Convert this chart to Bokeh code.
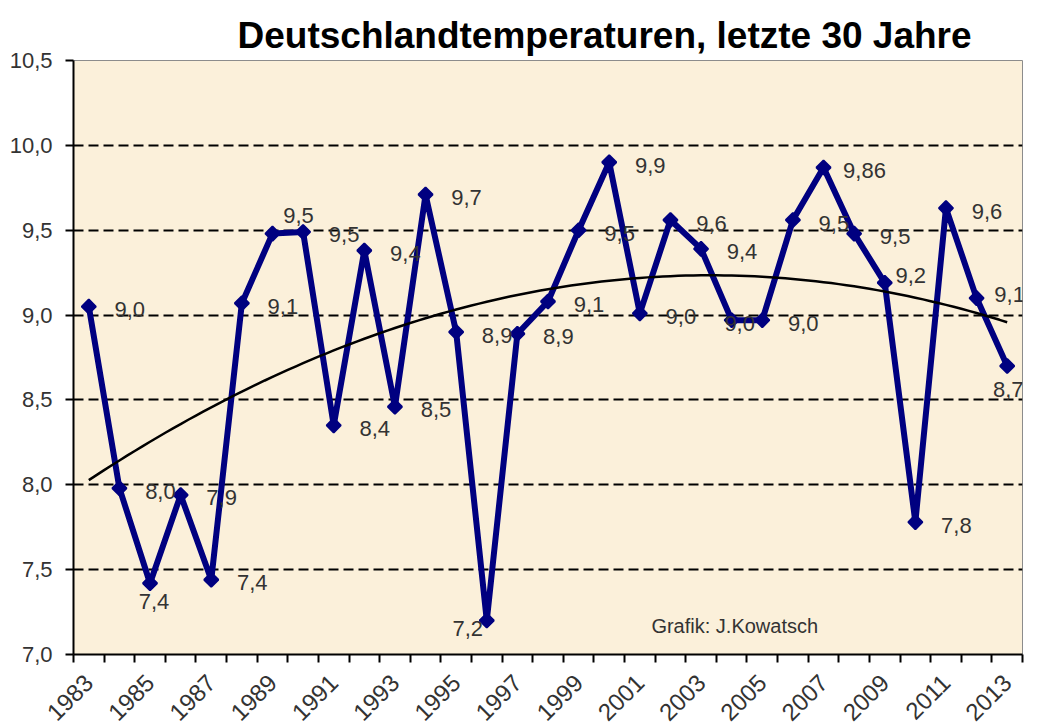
import math
import numpy as np
from bokeh.plotting import figure
from bokeh.models import Range1d, FixedTicker, Label, ColumnDataSource
from bokeh.core.properties import value
from bokeh.embed import file_html
from bokeh.resources import INLINE

# ---- data ----
years = list(range(1983, 2014))
temps = [9.05, 7.98, 7.42, 7.94, 7.44, 9.07, 9.48, 9.49, 8.35, 9.38,
         8.46, 9.71, 8.90, 7.20, 8.89, 9.08, 9.50, 9.90, 9.01, 9.56,
         9.39, 8.97, 8.97, 9.56, 9.87, 9.48, 9.19, 7.78, 9.63, 9.10, 8.70]
value_labels = ["9,0", "8,0", "7,4", "7,9", "7,4", "9,1", "9,5", "9,5", "8,4", "9,4",
                "8,5", "9,7", "8,9", "7,2", "8,9", "9,1", "9,5", "9,9", "9,0", "9,6",
                "9,4", "9,0", "9,0", "9,5", "9,86", "9,5", "9,2", "7,8", "9,6", "9,1", "8,7"]
label_place = ["r", "r", "b", "r", "r", "r", "a", "r", "r", "r",
               "r", "r", "r", "l", "r", "r", "r", "r", "r", "r",
               "r", "c", "r", "r", "r", "r", "ra", "r", "r", "re", "b2"]
x_tick_years = list(range(1983, 2014, 2))
x_tick_labels = [str(y) for y in x_tick_years]
y_ticks = [7.0, 7.5, 8.0, 8.5, 9.0, 9.5, 10.0, 10.5]
y_tick_labels = ["7,0", "7,5", "8,0", "8,5", "9,0", "9,5", "10,0", "10,5"]
title_text = "Deutschlandtemperaturen, letzte 30 Jahre"
credit_text = "Grafik: J.Kowatsch"

# ---- styling ----
FONT = "Liberation Sans"
TXT = "#333333"
NAVY = "#000080"
place_offsets = {"r": (41, 3), "b": (4, 18), "b2": (1, 24), "a": (26, -18),
                 "l": (-19, 8), "c": (8, 3), "ra": (26, -7), "re": (33, -4)}

p = figure(frame_width=949, frame_height=594,
           x_range=Range1d(years[0] - 0.5, years[-1] + 0.5),
           y_range=Range1d(y_ticks[0], y_ticks[-1]),
           output_backend="svg", toolbar_location=None,
           min_border_left=73, min_border_right=15, min_border_top=60, min_border_bottom=73,
           background_fill_color="#fbf0da", border_fill_color="white",
           outline_line_color="#8c8c8c", outline_line_width=1)

p.title.text = title_text
p.title.align = "left"
p.title.offset = 164
p.title.text_font = FONT
p.title.text_font_style = "bold"
p.title.text_font_size = "37px"
p.title.text_color = "black"
p.title.standoff = 10

# grid
p.xgrid.visible = False
p.ygrid.ticker = FixedTicker(ticks=y_ticks[1:-1])
p.ygrid.grid_line_color = "black"
p.ygrid.grid_line_width = 2
p.ygrid.grid_line_dash = "10 5"

# y axis
p.yaxis.ticker = FixedTicker(ticks=y_ticks)
p.yaxis.major_label_overrides = dict(zip(y_ticks, y_tick_labels))
p.yaxis.major_tick_out = 8
p.yaxis.major_tick_in = 0
p.yaxis.major_tick_line_width = 2
p.yaxis.axis_line_width = 2
p.yaxis.major_label_standoff = 13
p.yaxis.major_label_text_font = FONT
p.yaxis.major_label_text_font_size = "22px"
p.yaxis.major_label_text_color = TXT

# x axis
p.xaxis.ticker = FixedTicker(ticks=x_tick_years,
                             minor_ticks=[y - 0.5 for y in years] + [years[-1] + 0.5])
p.xaxis.major_label_overrides = dict(zip(x_tick_years, x_tick_labels))
p.xaxis.major_tick_out = 0
p.xaxis.major_tick_in = 0
p.xaxis.minor_tick_out = 8
p.xaxis.minor_tick_in = 0
p.xaxis.minor_tick_line_color = "black"
p.xaxis.minor_tick_line_width = 2
p.xaxis.axis_line_width = 2
p.xaxis.major_label_orientation = math.pi / 4
p.xaxis.major_label_standoff = 16
p.xaxis.major_label_text_font = FONT
p.xaxis.major_label_text_font_size = "24px"
p.xaxis.major_label_text_color = TXT

# data series
src = ColumnDataSource(dict(
    x=years, y=temps, label=value_labels,
    dx=[place_offsets[k][0] for k in label_place],
    dy=[place_offsets[k][1] for k in label_place],
))
p.line("x", "y", source=src, line_color=NAVY, line_width=6, line_join="round")
p.scatter("x", "y", source=src, marker="square", angle=math.pi / 4, size=10,
          fill_color=NAVY, line_color=NAVY, line_width=2)

# polynomial trend (2nd order) fitted to the series
coef = np.polyfit(years, temps, 2)
tx = np.linspace(years[0], years[-1], 121)
p.line(tx, np.polyval(coef, tx), line_color="black", line_width=2.5)

p.text("x", "y", text="label", source=src, x_offset="dx", y_offset="dy",
       text_align="center", text_baseline="middle",
       text_font=value(FONT), text_font_size="22px", text_color=TXT)

p.add_layout(Label(x=2004.1, y=7.17, text=credit_text, text_align="center",
                   text_baseline="middle", text_font=FONT, text_font_size="20px",
                   text_color=TXT))

open("out.html", "w").write(file_html(p, INLINE))
